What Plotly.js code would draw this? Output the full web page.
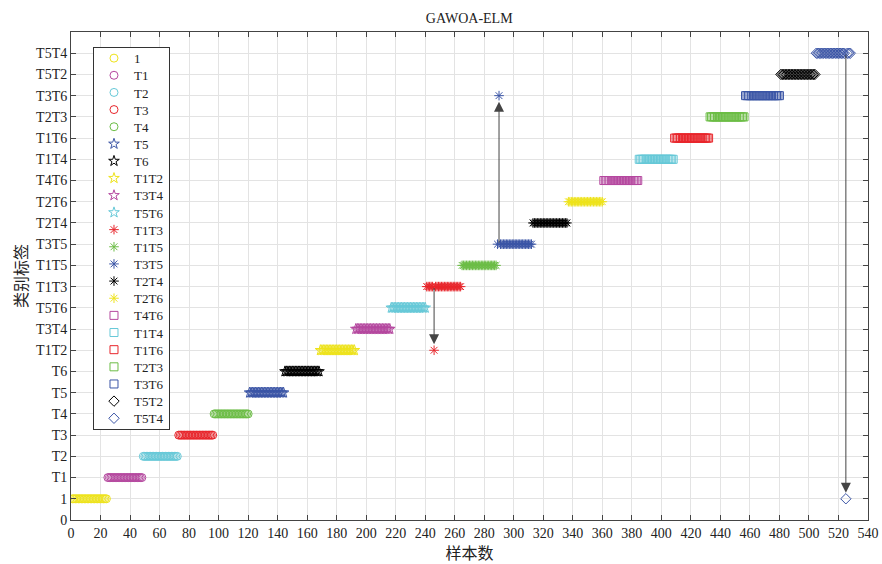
<!DOCTYPE html>
<html><head><meta charset="utf-8">
<script src="https://cdn.plot.ly/plotly-3.0.1.min.js"></script>
<style>html,body{margin:0;padding:0;background:#fff}#chart{width:882px;height:564px}</style>
</head><body><div id="chart"></div>
<script>
// y-axis category labels (value 0..22)
const yTickLabels = ['0','1','T1','T2','T3','T4','T5','T6','T1T2','T3T4','T5T6','T1T3','T1T5','T3T5','T2T4','T2T6','T4T6','T1T4','T1T6','T2T3','T3T6','T5T2','T5T4'];
// classes in sample order (label value 1..22)
const classNames = ['1','T1','T2','T3','T4','T5','T6','T1T2','T3T4','T5T6','T1T3','T1T5','T3T5','T2T4','T2T6','T4T6','T1T4','T1T6','T2T3','T3T6','T5T2','T5T4'];
const classValues = [1,2,3,4,5,6,7,8,9,10,11,12,13,14,15,16,17,18,19,20,21,22];
const samplesPerClass = [24,24,24,24,24,24,24,24,24,24,24,24,24,24,24,24,24,24,24,24,24,24];
// misclassified samples: index, true label, predicted label
const errSample = [246, 290, 525];
const errTrue = [11, 13, 22];
const errPred = [8, 20, 1];
// style per class
const classColors = ['#eee31c','#b5489f','#67c9d8','#e8262c','#6cbd46','#3b55a6','#000000','#eee31c','#b5489f','#67c9d8','#e8262c','#6cbd46','#3b55a6','#000000','#eee31c','#b5489f','#67c9d8','#e8262c','#6cbd46','#3b55a6','#000000','#3b55a6'];
const classSymbols = ['circle-open','circle-open','circle-open','circle-open','circle-open','star-open','star-open','star-open','star-open','star-open','asterisk-open','asterisk-open','asterisk-open','asterisk-open','asterisk-open','square-open','square-open','square-open','square-open','square-open','diamond-open','diamond-open'];

const traces = [];
let start = 1;
classNames.forEach((name, i) => {
  const xs = [], ys = [];
  for (let k = 0; k < samplesPerClass[i]; k++) {
    const s = start + k;
    xs.push(s);
    const e = errSample.indexOf(s);
    ys.push(e >= 0 ? errPred[e] : classValues[i]);
  }
  start += samplesPerClass[i];
  traces.push({
    type: 'scatter', mode: 'markers', name: name, x: xs, y: ys,
    marker: {symbol: classSymbols[i], size: 8, color: classColors[i], line: {color: classColors[i], width: 1}}
  });
});

const annotations = errSample.map((s, i) => ({
  x: s, y: errPred[i], ax: s, ay: errTrue[i], xref: 'x', yref: 'y', axref: 'x', ayref: 'y',
  showarrow: true, arrowhead: 2, arrowsize: 2, arrowwidth: 1, arrowcolor: '#444', standoff: 6, text: ''
}));

const fontSerif = 'Liberation Serif, Noto Sans CJK SC, serif';
const xt = [];
for (let v = 0; v <= 540; v += 20) xt.push(v);

const layout = {
  width: 882, height: 564,
  margin: {l: 71, r: 14, t: 32, b: 44},
  paper_bgcolor: '#fff', plot_bgcolor: '#fff',
  font: {family: fontSerif, size: 12, color: '#222'},
  title: {text: 'GAWOA-ELM', x: 0.532, xanchor: 'center', y: 0.968, yanchor: 'middle', font: {family: fontSerif, size: 14, color: '#222'}},
  xaxis: {
    range: [0, 540], tickvals: xt, ticktext: xt.map(String),
    showgrid: true, gridcolor: '#e3e3e3', gridwidth: 1, zeroline: false,
    showline: true, linecolor: '#444', linewidth: 1, mirror: 'ticks',
    ticks: 'inside', ticklen: 5, tickcolor: '#444',
    tickfont: {family: fontSerif, size: 14, color: '#222'},
    title: {text: '样本数', font: {family: 'Noto Sans CJK SC, sans-serif', size: 16, color: '#222'}, standoff: 4}
  },
  yaxis: {
    range: [0, 23], tickvals: yTickLabels.map((_, i) => i), ticktext: yTickLabels,
    showgrid: true, gridcolor: '#e3e3e3', gridwidth: 1, zeroline: false,
    showline: true, linecolor: '#444', linewidth: 1, mirror: 'ticks',
    ticks: 'inside', ticklen: 5, tickcolor: '#444',
    tickfont: {family: fontSerif, size: 14, color: '#222'},
    title: {text: '类别标签', font: {family: 'Noto Sans CJK SC, sans-serif', size: 16, color: '#222'}, standoff: 4}
  },
  showlegend: true,
  legend: {
    x: 0.0276, y: 0.969, xanchor: 'left', yanchor: 'top',
    bgcolor: '#fff', bordercolor: '#333', borderwidth: 1,
    font: {family: fontSerif, size: 13, color: '#222'},
    tracegroupgap: 0, itemwidth: 30
  },
  annotations: annotations
};

Plotly.newPlot('chart', traces, layout, {displayModeBar: false, staticPlot: true}).then(() => {
  // compact the legend rows to the reference spacing
  const step = 17.15, first = 11;
  const items = document.querySelectorAll('g.legend g.traces');
  items.forEach((g, i) => {
    const tr = g.getAttribute('transform') || '';
    const m = tr.match(/translate\(\s*([-\d.]+)[ ,]+([-\d.]+)\s*\)/);
    const x = m ? parseFloat(m[1]) : 0;
    g.setAttribute('transform', 'translate(' + x + ',' + (first + i * step) + ')');
  });
  const h = first + (items.length - 1) * step + 11;
  document.querySelectorAll('g.legend rect.bg').forEach(r => r.setAttribute('height', h));
});
</script>
</body></html>
